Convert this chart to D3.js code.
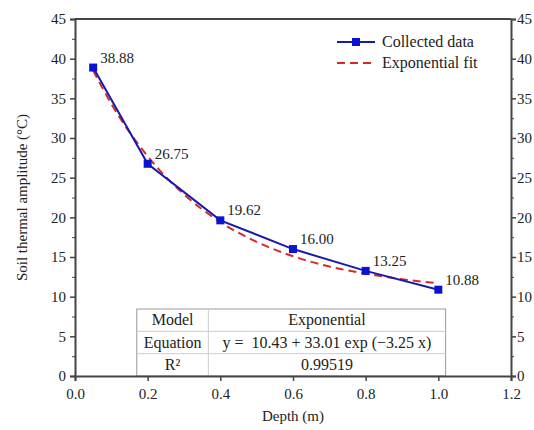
<!DOCTYPE html>
<html>
<head>
<meta charset="utf-8">
<script src="https://cdn.jsdelivr.net/npm/d3@7"></script>
<style>
  body { margin: 0; background: #fff; }
</style>
</head>
<body>
<script>
// collected data
let depth = [0.05, 0.2, 0.4, 0.6, 0.8, 1.0];
let amplitude = [38.88, 26.75, 19.62, 16.00, 13.25, 10.88];
let pointLabels = ["38.88", "26.75", "19.62", "16.00", "13.25", "10.88"];

// exponential fit curve
let fitDepth = [0.05, 0.1, 0.2, 0.3, 0.4, 0.5, 0.6, 0.7, 0.8, 0.9, 1.0];
let fitValue = [38.5, 34.3, 27.7, 22.9, 19.4, 16.9, 15.1, 13.8, 12.9, 12.2, 11.7];

let xTicks = [0, 0.2, 0.4, 0.6, 0.8, 1.0, 1.2];
let yTicks = [0, 5, 10, 15, 20, 25, 30, 35, 40, 45];
let yMinor = [2.5, 7.5, 12.5, 17.5, 22.5, 27.5, 32.5, 37.5, 42.5];

let legendNames = ["Collected data", "Exponential fit"];
let tableRows = [
  ["Model", "Exponential"],
  ["Equation", "y =  10.43 + 33.01 exp (\u22123.25 x)"],
  ["R\u00B2", "0.99519"]
];

let W = 534, H = 430;
let plot = {left: 75, right: 511, top: 19, bottom: 376};
let blue = "#1a1aa8", marker = "#0a14d0", red = "#d42a2a", axisCol = "#444";
let serif = "'Times New Roman', 'Liberation Serif', serif";
let fs = 15;

let svg = d3.select("body").append("svg").attr("width", W).attr("height", H)
  .attr("font-family", serif);

let x = d3.scaleLinear().domain([0, 1.2]).range([plot.left, plot.right]);
let y = d3.scaleLinear().domain([0, 45]).range([plot.bottom, plot.top]);

// table (drawn first, sits under the axis)
let tab = {x0: x(0.17), x1: x(1.02), split: x(0.367), top: 309};
let rowH = (plot.bottom - tab.top) / tableRows.length;
let tg = svg.append("g");
tg.append("rect")
  .attr("x", tab.x0).attr("y", tab.top)
  .attr("width", tab.x1 - tab.x0).attr("height", plot.bottom - tab.top)
  .attr("fill", "#fff").attr("stroke", "#999").attr("stroke-width", 1);
tableRows.forEach((r, i) => {
  if (i > 0) {
    tg.append("line").attr("x1", tab.x0).attr("x2", tab.x1)
      .attr("y1", tab.top + i * rowH).attr("y2", tab.top + i * rowH)
      .attr("stroke", "#ccc");
  }
  tg.append("text").attr("x", (tab.x0 + tab.split) / 2).attr("y", tab.top + i * rowH + rowH / 2 + 5)
    .attr("text-anchor", "middle").attr("font-size", 16).attr("fill", "#222").text(r[0]);
  tg.append("text").attr("x", (tab.split + tab.x1) / 2).attr("y", tab.top + i * rowH + rowH / 2 + 5)
    .attr("text-anchor", "middle").attr("font-size", 16).attr("fill", "#222")
    .attr("xml:space", "preserve").style("white-space", "pre").text(r[1]);
});
tg.append("line").attr("x1", tab.split).attr("x2", tab.split)
  .attr("y1", tab.top).attr("y2", plot.bottom).attr("stroke", "#ccc");

// axes
let xAxis = svg.append("g").attr("transform", "translate(0," + plot.bottom + ")")
  .call(d3.axisBottom(x).tickValues(xTicks).tickFormat(d3.format(".1f")).tickSize(5).tickPadding(7));
let yAxisL = svg.append("g").attr("transform", "translate(" + plot.left + ",0)")
  .call(d3.axisLeft(y).tickValues(yTicks).tickSize(5).tickPadding(4));
let yAxisR = svg.append("g").attr("transform", "translate(" + plot.right + ",0)")
  .call(d3.axisRight(y).tickValues(yTicks).tickSize(5).tickPadding(1));
[xAxis, yAxisL, yAxisR].forEach(a => {
  a.attr("font-family", serif).attr("font-size", fs);
  a.selectAll("path").attr("stroke", axisCol).attr("stroke-width", 2);
  a.selectAll("line").attr("stroke", axisCol).attr("stroke-width", 1.5);
  a.selectAll("text").attr("fill", "#222");
});
svg.append("g").attr("transform", "translate(" + plot.left + ",0)")
  .call(d3.axisLeft(y).tickValues(yMinor).tickSize(3).tickFormat(""))
  .call(g => g.select("path").remove())
  .selectAll("line").attr("stroke", axisCol);
svg.append("g").attr("transform", "translate(" + plot.right + ",0)")
  .call(d3.axisRight(y).tickValues(yMinor).tickSize(3).tickFormat(""))
  .call(g => g.select("path").remove())
  .selectAll("line").attr("stroke", axisCol);
svg.append("line").attr("x1", plot.left).attr("x2", plot.right)
  .attr("y1", plot.top).attr("y2", plot.top).attr("stroke", axisCol).attr("stroke-width", 2);

// axis titles
svg.append("text").attr("x", x(0.6)).attr("y", 421).attr("text-anchor", "middle")
  .attr("font-size", fs).attr("fill", "#222").text("Depth (m)");
svg.append("text").attr("transform", "translate(27," + y(22.5) + ") rotate(-90)")
  .attr("text-anchor", "middle").attr("font-size", fs).attr("fill", "#222")
  .text("Soil thermal amplitude (\u00B0C)");

// fit curve
let fitLine = d3.line().x(d => x(d[0])).y(d => y(d[1])).curve(d3.curveMonotoneX);
svg.append("path").datum(d3.zip(fitDepth, fitValue))
  .attr("d", fitLine).attr("fill", "none")
  .attr("stroke", red).attr("stroke-width", 2).attr("stroke-dasharray", "8,5");

// collected data
let dataLine = d3.line().x(d => x(d[0])).y(d => y(d[1]));
let pts = d3.zip(depth, amplitude);
svg.append("path").datum(pts)
  .attr("d", dataLine).attr("fill", "none").attr("stroke", blue).attr("stroke-width", 2);
svg.selectAll("rect.pt").data(pts).enter().append("rect").attr("class", "pt")
  .attr("x", d => x(d[0]) - 4).attr("y", d => y(d[1]) - 4)
  .attr("width", 8).attr("height", 8).attr("fill", marker);
svg.selectAll("text.lab").data(pts).enter().append("text").attr("class", "lab")
  .attr("x", d => x(d[0]) + 7).attr("y", d => y(d[1]) - 5)
  .attr("font-size", fs).attr("fill", "#222").text((d, i) => pointLabels[i]);

// legend
let lg = svg.append("g").attr("transform", "translate(337,42)");
lg.append("line").attr("x1", 0).attr("x2", 38).attr("y1", 0).attr("y2", 0)
  .attr("stroke", blue).attr("stroke-width", 2);
lg.append("rect").attr("x", 15).attr("y", -4).attr("width", 8).attr("height", 8).attr("fill", marker);
lg.append("line").attr("x1", 0).attr("x2", 38).attr("y1", 21).attr("y2", 21)
  .attr("stroke", red).attr("stroke-width", 2).attr("stroke-dasharray", "8,5");
legendNames.forEach((n, i) => {
  lg.append("text").attr("x", 45).attr("y", i * 21 + 5).attr("font-size", 16)
    .attr("fill", "#222").text(n);
});
</script>
</body>
</html>
